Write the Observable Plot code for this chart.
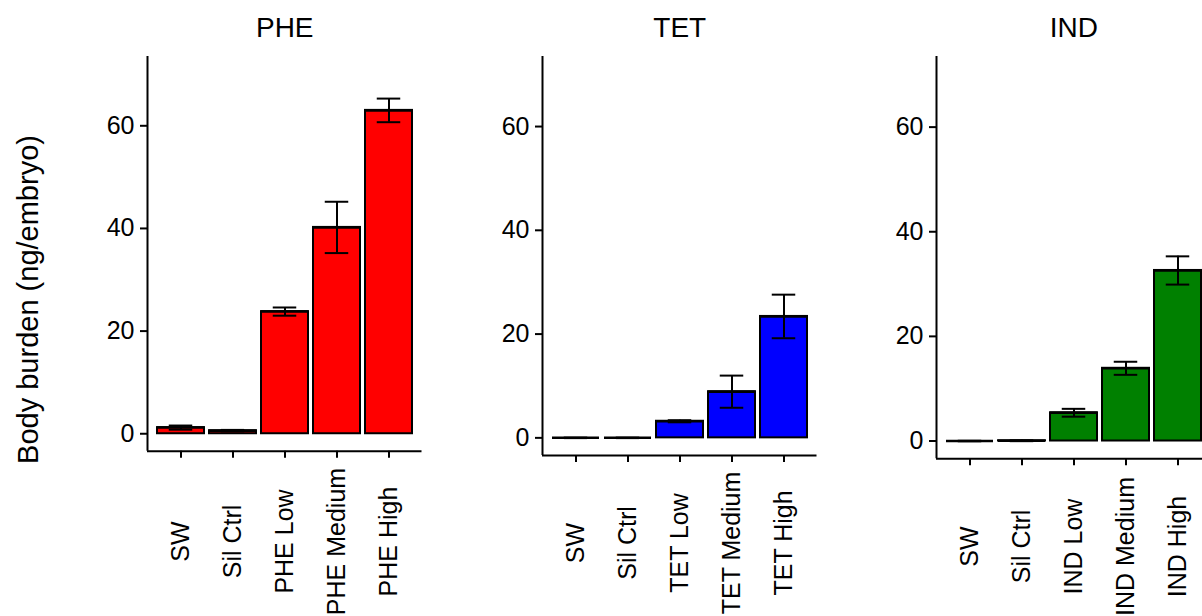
<!DOCTYPE html>
<html><head><meta charset="utf-8">
<script src="https://cdn.jsdelivr.net/npm/d3@7"></script>
<script src="https://cdn.jsdelivr.net/npm/@observablehq/plot@0.6"></script>
<style>
html,body{margin:0;padding:0;background:#fff;}
#chart{position:relative;width:1202px;height:616px;overflow:hidden;background:#fff;}
#chart svg{position:absolute;top:0;}
</style></head><body><div id="chart"></div>
<script>
const yLabel = "Body burden (ng/embryo)";
const panelTitles = ["PHE", "TET", "IND"];
const panelFills = ["#FF0000", "#0000FF", "#008000"];

const pheCategories = ["SW", "Sil Ctrl", "PHE Low", "PHE Medium", "PHE High"];
const pheMeans = [1.2, 0.6, 23.8, 40.2, 63.0];
const pheErrors = [0.4, 0.15, 0.8, 5.0, 2.3];

const tetCategories = ["SW", "Sil Ctrl", "TET Low", "TET Medium", "TET High"];
const tetMeans = [0.0, 0.0, 3.2, 8.9, 23.4];
const tetErrors = [0.05, 0.05, 0.2, 3.1, 4.2];

const indCategories = ["SW", "Sil Ctrl", "IND Low", "IND Medium", "IND High"];
const indMeans = [0.0, 0.05, 5.4, 13.9, 32.6];
const indErrors = [0.05, 0.08, 0.75, 1.25, 2.7];

const yTicks = [0, 20, 40, 60];
const yDomain = [-3.4, 73.5];

const FONT = "'Liberation Sans', Arial, Helvetica, sans-serif";

function panel(title, cats, means, errs, fill, left, frameBottom, labelDy, showYLabel) {
  const data = cats.map((c, i) => ({cat: c, mean: means[i], lo: means[i] - errs[i], hi: means[i] + errs[i]}));
  const width = 432, height = 616, marginLeft = 147, marginRight = 10.5, marginTop = 56;
  const marginBottom = height - frameBottom;
  const frameW = width - marginLeft - marginRight;
  const frameMidY = (marginTop + frameBottom) / 2;
  const marks = [
    Plot.barY(data, {x: "cat", y: "mean", fill, stroke: "black", strokeWidth: 2}),
    Plot.tickY(data, {x: "cat", y: "mean", stroke: "black", strokeWidth: 2.5}),
    Plot.ruleX(data, {x: "cat", y1: "lo", y2: "hi", stroke: "black", strokeWidth: 2}),
    Plot.tickY(data, {x: "cat", y: "lo", stroke: "black", strokeWidth: 2, insetLeft: 11.75, insetRight: 11.75}),
    Plot.tickY(data, {x: "cat", y: "hi", stroke: "black", strokeWidth: 2, insetLeft: 11.75, insetRight: 11.75}),
    Plot.ruleY([yDomain[0]], {stroke: "black", strokeWidth: 2}),
    Plot.ruleX([0], {x: null, y1: yDomain[0], y2: yDomain[1], dx: -frameW / 2, stroke: "black", strokeWidth: 2}),
    Plot.axisY({ticks: yTicks, tickSize: 7, tickPadding: 6, strokeWidth: 2, label: null, fill: "black"}),
    Plot.axisX({tickSize: 7, tickFormat: () => "", strokeWidth: 2, label: null}),
    Plot.text(cats, {x: d => d, frameAnchor: "bottom", dy: labelDy, rotate: -90, textAnchor: "middle", lineAnchor: "middle", fontSize: 25, fill: "black"}),
    Plot.text([title], {frameAnchor: "top", dy: -28, fontSize: 28, lineAnchor: "middle", fill: "black"})
  ];
  if (showYLabel) {
    marks.push(Plot.text([yLabel], {frameAnchor: "left", dx: 28 - marginLeft, dy: 299 - frameMidY, rotate: -90, textAnchor: "middle", lineAnchor: "middle", fontSize: 29, fill: "black"}));
  }
  const svg = Plot.plot({
    width, height, marginLeft, marginRight, marginTop, marginBottom,
    style: {background: "transparent", fontSize: "25px", fontFamily: FONT, color: "black", maxWidth: "none"},
    x: {domain: cats, paddingInner: 0.1, paddingOuter: 0.15, align: 0.5},
    y: {domain: yDomain},
    marks
  });
  svg.style.left = left + "px";
  document.getElementById("chart").appendChild(svg);
}

panel(panelTitles[0], pheCategories, pheMeans, pheErrors, panelFills[0], 0, 450.7, 90.3, true);
panel(panelTitles[1], tetCategories, tetMeans, tetErrors, panelFills[1], 394.5, 455, 87.5, false);
panel(panelTitles[2], indCategories, indMeans, indErrors, panelFills[2], 789, 458.3, 87.7, false);
</script></body></html>
